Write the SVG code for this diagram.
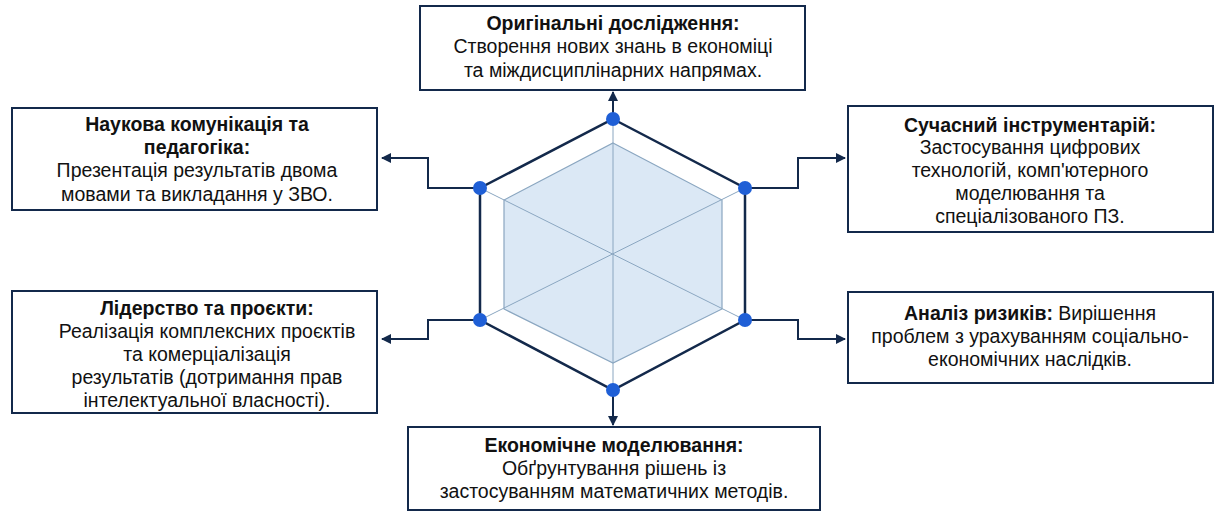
<svg xmlns="http://www.w3.org/2000/svg" width="1230" height="522" viewBox="0 0 1230 522">
<style>
.box{fill:#fff;stroke:#13294b;stroke-width:2}
text{font-family:"Liberation Sans",Arial,sans-serif;font-size:19.5px;fill:#111;text-anchor:middle}
.b{font-weight:bold}
.con{fill:none;stroke:#13294b;stroke-width:2}
.dot{fill:#1f5fd6}
</style>
<defs><marker id="ah" viewBox="0 0 10 10" refX="9" refY="5" markerWidth="5" markerHeight="5" orient="auto"><path d="M0,0L10,5L0,10z" fill="#13294b"/></marker></defs>
<rect width="1230" height="522" fill="#fff"/>
<g id="hex">
<polygon points="613,143 722,200 722,309 613,363 504,309 504,200" fill="#dbe8f5" stroke="#8aa6c0" stroke-width="1.2"/>
<g stroke="#8aa6c0" stroke-width="1"><line x1="613" y1="119" x2="613" y2="390"/><line x1="480" y1="188" x2="745" y2="320"/><line x1="745" y1="188" x2="480" y2="320"/></g>
<polygon points="613,119 745,188 745,320 613,390 480,320 480,188" fill="none" stroke="#13294b" stroke-width="2.5"/>
</g>
<g id="connectors">
<path class="con" marker-end="url(#ah)" d="M613,119V92"/>
<path class="con" marker-end="url(#ah)" d="M480,188H428V158H382"/>
<path class="con" marker-end="url(#ah)" d="M745,188H798V158H845"/>
<path class="con" marker-end="url(#ah)" d="M480,320H428V339H382"/>
<path class="con" marker-end="url(#ah)" d="M745,320H798V339H845"/>
<path class="con" marker-end="url(#ah)" d="M613,390V425"/>
</g>
<g id="dots"><circle class="dot" cx="613" cy="119" r="7"/><circle class="dot" cx="745" cy="188" r="7"/><circle class="dot" cx="745" cy="320" r="7"/><circle class="dot" cx="613" cy="390" r="7"/><circle class="dot" cx="480" cy="320" r="7"/><circle class="dot" cx="480" cy="188" r="7"/></g>
<g id="n-top"><rect class="box" x="420" y="6" width="385" height="84"/>
<text x="613" y="30" class="b">Оригінальні дослідження:</text>
<text x="613" y="53">Створення нових знань в економіці</text>
<text x="613" y="77">та міждисциплінарних напрямах.</text></g>
<g id="n-ul"><rect class="box" x="12" y="108" width="365" height="102"/>
<text x="197" y="131" class="b">Наукова комунікація та</text>
<text x="197" y="154" class="b">педагогіка:</text>
<text x="197" y="177">Презентація результатів двома</text>
<text x="197" y="201">мовами та викладання у ЗВО.</text></g>
<g id="n-ur"><rect class="box" x="848" y="106" width="365" height="126"/>
<text x="1030" y="132" class="b">Сучасний інструментарій:</text>
<text x="1030" y="154">Застосування цифрових</text>
<text x="1030" y="177">технологій, комп'ютерного</text>
<text x="1030" y="200">моделювання та</text>
<text x="1030" y="223">спеціалізованого ПЗ.</text></g>
<g id="n-ll"><rect class="box" x="12" y="291" width="365" height="122"/>
<text x="207" y="315" class="b">Лідерство та проєкти:</text>
<text x="207" y="338">Реалізація комплексних проєктів</text>
<text x="207" y="361">та комерціалізація</text>
<text x="207" y="384">результатів (дотримання прав</text>
<text x="207" y="407">інтелектуальної власності).</text></g>
<g id="n-lr"><rect class="box" x="848" y="292" width="365" height="91"/>
<text x="1030" y="320"><tspan class="b">Аналіз ризиків:</tspan> Вирішення</text>
<text x="1030" y="343">проблем з урахуванням соціально-</text>
<text x="1030" y="366">економічних наслідків.</text></g>
<g id="n-bot"><rect class="box" x="408" y="427" width="412" height="83"/>
<text x="614" y="452" class="b">Економічне моделювання:</text>
<text x="614" y="475">Обґрунтування рішень із</text>
<text x="614" y="498">застосуванням математичних методів.</text></g>
</svg>
